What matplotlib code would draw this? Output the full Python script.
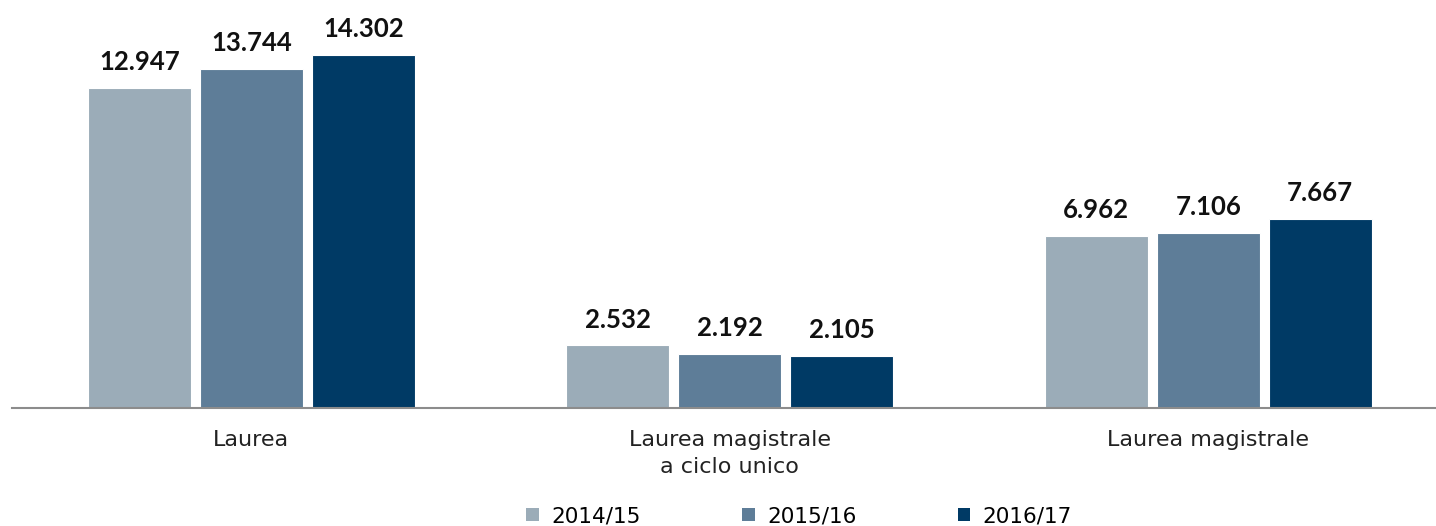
import matplotlib
matplotlib.use("Agg")
import matplotlib.pyplot as plt
import numpy as np
from matplotlib.patches import Patch

categories = ["Laurea", "Laurea magistrale\na ciclo unico", "Laurea magistrale"]
years = ["2014/15", "2015/16", "2016/17"]
v_2014 = [12947, 2532, 6962]
v_2015 = [13744, 2192, 7106]
v_2016 = [14302, 2105, 7667]
series = [v_2014, v_2015, v_2016]
colors = ["#9BACB8", "#5E7D98", "#003A65"]

def fmt(v):
    return f"{v:,}".replace(",", ".")

W, H = 1436, 526
fig = plt.figure(figsize=(W / 100, H / 100), dpi=100)
ax = fig.add_axes([12 / W, (526 - 408) / H, (1436 - 12) / W, 408 / H])

x = np.arange(len(categories))
bw = 0.216
step = 0.234
for i, (vals, c) in enumerate(zip(series, colors)):
    xs = x + (i - 1) * step
    ax.bar(xs, vals, width=bw, color=c, edgecolor="white", linewidth=0.8, zorder=2)
    for xx, v in zip(xs, vals):
        ax.annotate(fmt(v), (xx, v), xytext=(0, 10), textcoords="offset points",
                    ha="center", va="bottom", fontsize=18.5, fontweight="bold",
                    family="Lato", color="#111111")

ax.set_xlim(-0.5, 2.476)
ax.set_ylim(0, 16520)
for s in ["top", "right", "left"]:
    ax.spines[s].set_visible(False)
ax.spines["bottom"].set_color("#8C8C8C")
ax.spines["bottom"].set_linewidth(1.5)
ax.set_yticks([])
ax.set_xticks(x)
ax.set_xticklabels(categories, fontsize=16, family="DejaVu Sans", color="#222222", linespacing=1.45)
ax.tick_params(axis="x", length=0, pad=15.5)

handles = [Patch(facecolor=c, edgecolor="none") for c in colors]
fig.legend(handles, years, loc="center left", bbox_to_anchor=(520 / W, 1 - 516 / H), ncol=3,
           frameon=False, prop={"family": "DejaVu Sans", "size": 15.5}, handlelength=0.6,
           handleheight=0.6, handletextpad=0.56, columnspacing=4.7, borderaxespad=0,
           borderpad=0.3)

fig.savefig("out.png", dpi=100)
